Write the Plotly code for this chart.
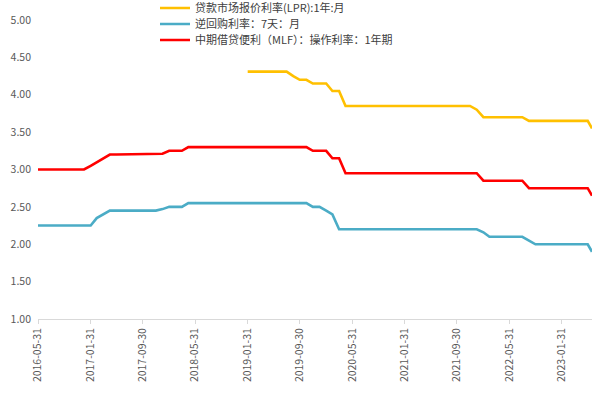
import pandas as pd
import plotly.graph_objects as go

# x: month-end observations, last point 2023-06-20
dates = [d.strftime("%Y-%m-%d") for d in pd.date_range("2016-05-31", "2023-05-31", freq="ME")] + ["2023-06-20"]

lpr_1y = [None] * 32 + [
    4.31, 4.31, 4.31, 4.31, 4.31, 4.31, 4.31,  # 2019-01..07
    4.25, 4.20, 4.20, 4.15, 4.15, 4.15, 4.05, 4.05,  # 2019-08..2020-03
    3.85, 3.85, 3.85, 3.85, 3.85, 3.85, 3.85, 3.85, 3.85, 3.85,
    3.85, 3.85, 3.85, 3.85, 3.85, 3.85, 3.85, 3.85, 3.85, 3.85,  # 2020-04..2021-11
    3.80,  # 2021-12
    3.70, 3.70, 3.70, 3.70, 3.70, 3.70, 3.70,  # 2022-01..07
    3.65, 3.65, 3.65, 3.65, 3.65, 3.65, 3.65, 3.65, 3.65, 3.65,  # 2022-08..2023-05
    3.55,
]

reverse_repo_7d = [
    2.25, 2.25, 2.25, 2.25, 2.25, 2.25, 2.25, 2.25, 2.25,  # 2016-05..2017-01
    2.35, 2.40, 2.45,
    2.45, 2.45, 2.45, 2.45, 2.45, 2.45, 2.45,
    2.47,
    2.50, 2.50, 2.50,
    2.55, 2.55, 2.55, 2.55, 2.55, 2.55, 2.55, 2.55, 2.55, 2.55,
    2.55, 2.55, 2.55, 2.55, 2.55, 2.55, 2.55, 2.55, 2.55,  # 2018-04..2019-10
    2.50, 2.50, 2.45, 2.40,
    2.20, 2.20, 2.20, 2.20, 2.20, 2.20, 2.20, 2.20, 2.20, 2.20, 2.20,
    2.20, 2.20, 2.20, 2.20, 2.20, 2.20, 2.20, 2.20, 2.20, 2.20, 2.20,  # 2020-03..2021-12
    2.16,
    2.10, 2.10, 2.10, 2.10, 2.10, 2.10,
    2.05,
    2.00, 2.00, 2.00, 2.00, 2.00, 2.00, 2.00, 2.00, 2.00,
    1.90,
]

mlf_1y = [
    3.00, 3.00, 3.00, 3.00, 3.00, 3.00, 3.00, 3.00,  # 2016-05..12
    3.05, 3.10, 3.15, 3.20,
    3.20, 3.20, 3.20, 3.20, 3.20, 3.20, 3.20,
    3.21,
    3.25, 3.25, 3.25,
    3.30, 3.30, 3.30, 3.30, 3.30, 3.30, 3.30, 3.30, 3.30, 3.30,
    3.30, 3.30, 3.30, 3.30, 3.30, 3.30, 3.30, 3.30, 3.30,  # 2018-04..2019-10
    3.25, 3.25, 3.25, 3.15, 3.15,
    2.95, 2.95, 2.95, 2.95, 2.95, 2.95, 2.95, 2.95, 2.95, 2.95, 2.95,
    2.95, 2.95, 2.95, 2.95, 2.95, 2.95, 2.95, 2.95, 2.95, 2.95,  # 2020-04..2021-12
    2.85, 2.85, 2.85, 2.85, 2.85, 2.85, 2.85,
    2.75, 2.75, 2.75, 2.75, 2.75, 2.75, 2.75, 2.75, 2.75, 2.75,
    2.65,
]

tick_dates = ["2016-05-31", "2017-01-31", "2017-09-30", "2018-05-31", "2019-01-31", "2019-09-30",
              "2020-05-31", "2021-01-31", "2021-09-30", "2022-05-31", "2023-01-31"]
y_ticks = [1.00, 1.50, 2.00, 2.50, 3.00, 3.50, 4.00, 4.50, 5.00]

series_names = ["贷款市场报价利率(LPR):1年:月", "逆回购利率：7天：月", "中期借贷便利（MLF）：操作利率：1年期"]
series_colors = ["#FFC000", "#4BACC6", "#FF0000"]
legend_ids = ["legend", "legend2", "legend3"]

W, H = 603, 395
ML, MR, MT, MB = 38, 11, 0, 76
plot_h = H - MT - MB
top_gap = 20  # px between paper top and y=5.00

font = "Noto Sans CJK SC"
fig = go.Figure()
for name, vals, color, lg in zip(series_names, [lpr_1y, reverse_repo_7d, mlf_1y], series_colors, legend_ids):
    fig.add_trace(go.Scatter(x=dates, y=vals, mode="lines", name=name, legend=lg,
                             line=dict(color=color, width=2.6), connectgaps=False))

legend_rows_px = [8, 24, 40]
legend_x = (155 - ML) / (W - ML - MR)
layout_legends = {}
for lg, ypx in zip(legend_ids, legend_rows_px):
    layout_legends[lg] = dict(x=legend_x, y=1 - ypx / plot_h, xanchor="left", yanchor="middle",
                              font=dict(family=font, size=11, color="#404040"),
                              bgcolor="rgba(0,0,0,0)", borderwidth=0, itemwidth=30)

fig.update_layout(
    width=W, height=H,
    margin=dict(l=ML, r=MR, t=MT, b=MB, autoexpand=False),
    paper_bgcolor="white", plot_bgcolor="white",
    font=dict(family=font, size=11, color="#595959"),
    showlegend=True,
    xaxis=dict(type="date", range=["2016-05-31", "2023-06-20"], automargin=False,
               tickvals=tick_dates, ticktext=tick_dates, tickangle=-90,
               showgrid=False, zeroline=False, showline=True, linecolor="#D9D9D9", linewidth=1,
               ticks="outside", ticklen=4, tickcolor="#D9D9D9",
               tickfont=dict(family=font, size=10.5, color="#595959")),
    yaxis=dict(range=[1, 5], tickvals=y_ticks, tickformat=".2f", automargin=False,
               domain=[0, 1 - top_gap / plot_h],
               showgrid=False, zeroline=False, showline=False, ticks="",
               ticklabelstandoff=6,
               tickfont=dict(family=font, size=10.5, color="#595959")),
    **layout_legends,
)

fig.write_html("out.html", config={"displayModeBar": False},
               post_script="document.body.style.margin='0';document.body.style.overflow='hidden';")
